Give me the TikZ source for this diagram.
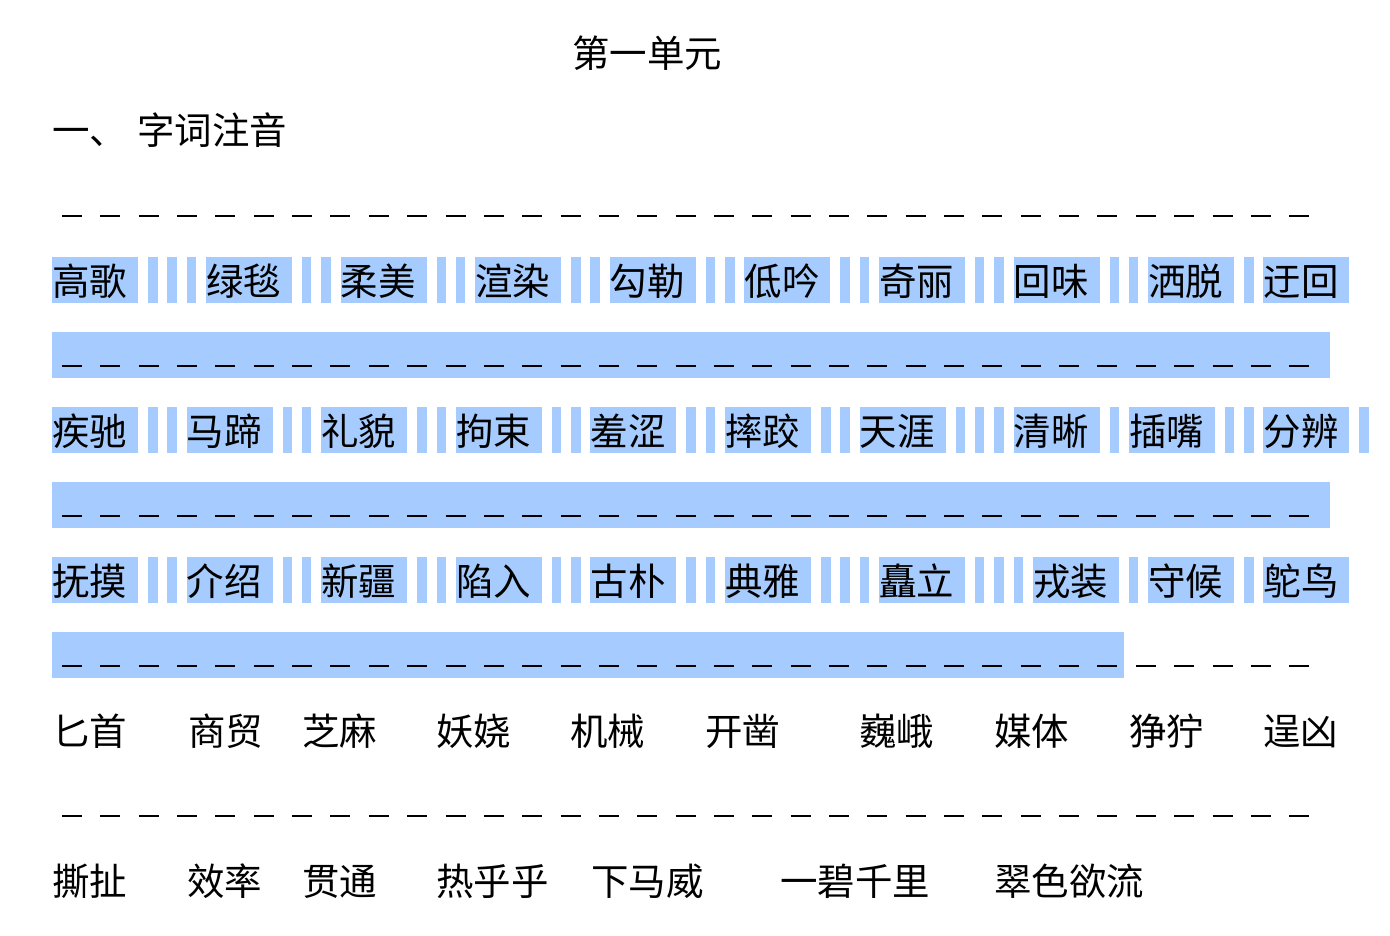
\documentclass[tikz,border=0pt]{standalone}
\usepackage{fontspec}
\newfontfamily\cjk{Noto Sans CJK SC}
\definecolor{selblue}{RGB}{166,203,254}
\tikzset{
  word/.style={anchor=base west,inner sep=0pt,font=\cjk\fontsize{28.1}{30}\selectfont},
  dashbar/.style={line width=2pt},
  sel/.style={fill=selblue,draw=none},
}
\begin{document}
\begin{tikzpicture}[x=0.75pt,y=-0.75pt]
\useasboundingbox (0,0) rectangle (1390,936);

% selection bands over the dash lines
\fill[sel] (52,332) rectangle (1330,378);
\fill[sel] (52,482) rectangle (1330,528);
\fill[sel] (52,632) rectangle (1124,678);

% selected words, row 1
\foreach \x in {148,167.3,186.6,301.9,321.2,436.5,455.8,571.1,590.4,705.7,725,840.3,859.6,974.9,994.2,1109.5,1128.8,1244.1}
  \fill[sel] (\x,257) rectangle ++(9.5,46);
\foreach \x/\w [count=\i] in {52/高歌,205.9/绿毯,340.5/柔美,475.1/渲染,609.7/勾勒,744.3/低吟,878.9/奇丽,1013.5/回味,1148.1/洒脱,1263.4/迂回}{
  \fill[sel] (\x,257) rectangle ++(86,46);
  \node[word] (a\i) at (\x,295) {\w};
}

% row 2
\foreach \x in {148,167.3,282.6,301.9,417.2,436.5,551.8,571.1,686.4,705.7,821,840.3,955.6,974.9,994.2,1109.5,1224.8,1244.1,1359.4}
  \fill[sel] (\x,407) rectangle ++(9.5,46);
\foreach \x/\w [count=\i] in {52/疾驰,186.6/马蹄,321.2/礼貌,455.8/拘束,590.4/羞涩,725/摔跤,859.6/天涯,1013.5/清晰,1128.8/插嘴,1263.4/分辨}{
  \fill[sel] (\x,407) rectangle ++(86,46);
  \node[word] (b\i) at (\x,445) {\w};
}

% row 3
\foreach \x in {148,167.3,282.6,301.9,417.2,436.5,551.8,571.1,686.4,705.7,821,840.3,859.6,974.9,994.2,1013.5,1128.8,1244.1}
  \fill[sel] (\x,557) rectangle ++(9.5,46);
\foreach \x/\w [count=\i] in {52/抚摸,186.6/介绍,321.2/新疆,455.8/陷入,590.4/古朴,725/典雅,878.9/矗立,1032.8/戎装,1148.1/守候,1263.4/鸵鸟}{
  \fill[sel] (\x,557) rectangle ++(86,46);
  \node[word] (c\i) at (\x,595) {\w};
}

% plain rows
\foreach \x/\w [count=\i] in {52/匕首,188/商贸,302/芝麻,436/妖娆,570/机械,705/开凿,859/巍峨,994/媒体,1129/狰狞,1263/逞凶}
  \node[word] (d\i) at (\x,745) {\w};
\foreach \x/\w [count=\i] in {52/撕扯,187/效率,302/贯通,436/热乎乎,591/下马威,780/一碧千里,994/翠色欲流}
  \node[word] (e\i) at (\x,895) {\w};

% dash lines
\foreach \y in {216,366,516,666,816}
  \foreach \k in {0,...,32}
    \draw[dashbar] ({62+38.35*\k},\y) -- ++(20,0);

\node[word] (title) at (572,67.5) {第一单元};
\node[word] (num) at (52,144) {一、};
\node[word] (head) at (137,144) {字词注音};

\end{tikzpicture}
\end{document}
